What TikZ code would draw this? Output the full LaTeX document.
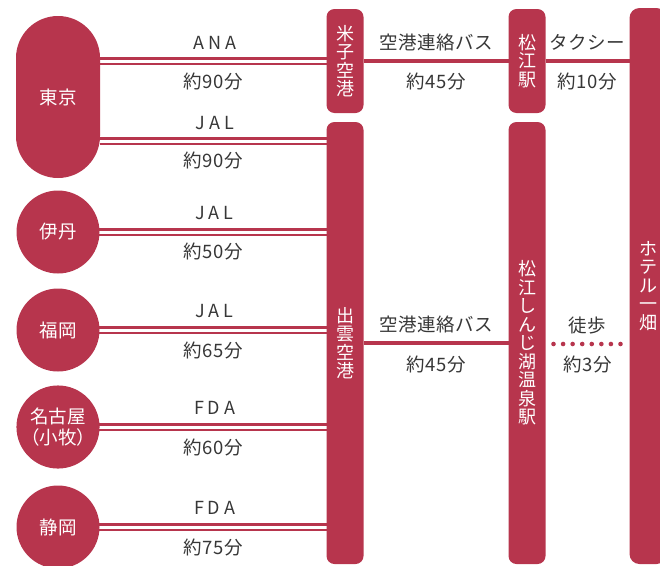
\documentclass[tikz,border=0pt]{standalone}
\usepackage{fontspec}
\setmainfont{Noto Sans CJK JP}
\newfontfamily\spacedfont[LetterSpace=22]{Noto Sans CJK JP}
\newfontfamily\labfont[LetterSpace=3]{Noto Sans CJK JP}
\usetikzlibrary{backgrounds}
\definecolor{crim}{RGB}{183,53,77}
\definecolor{inkc}{RGB}{55,55,55}
\begin{document}
\begin{tikzpicture}[x=1pt,y=-1pt,
  every node/.style={inner sep=0pt, outer sep=0pt},
  bar/.style={fill=crim, text=white, rounded corners=8pt, minimum width=37pt,
    font=\fontsize{18}{18.5}\selectfont, align=center},
  city/.style={circle, fill=crim, text=white, minimum size=83pt,
    font=\fontsize{18.5}{21}\selectfont, align=center},
  dbl/.style={draw=crim, line width=2.5pt, double=white, double distance=3pt},
  sgl/.style={draw=crim, line width=3.5pt},
  dotline/.style={draw=crim, line width=4.6pt, line cap=round, dash pattern=on 0pt off 9.57pt},
  lab/.style={text=inkc, font=\labfont\fontsize{18.5}{21}\selectfont},
  air/.style={text=inkc, font=\spacedfont\fontsize{18}{21}\selectfont}
]
\useasboundingbox (0,0) rectangle (660,565);
\clip (0,0) rectangle (660,565);

% origin nodes
\node[fill=crim, text=white, rounded corners=42pt, minimum width=84pt, minimum height=162pt,
  font=\fontsize{18.5}{21}\selectfont] (tokyo) at (58,97) {東京};
\node[city] (itami) at (58,232) {伊丹};
\node[city] (fukuoka) at (58,330) {福岡};
\node[city] (nagoya) at (58,427) {名古屋\\（小牧）};
\node[city] (shizuoka) at (58,527) {静岡};

% airports / stations
\node[bar, minimum height=104pt] (yonago) at (345,61) {米\\子\\空\\港};
\node[bar, minimum height=442pt] (izumo) at (345,343) {出\\雲\\空\\港};
\node[bar, minimum height=104pt] (matsue) at (527,61) {松\\江\\駅};
\node[bar, minimum height=442pt] (shinji) at (527,343) {松\\江\\し\\ん\\じ\\湖\\温\\泉\\駅};
\node[bar, rounded corners=10pt, minimum height=556pt] (hotel) at (648,286) {ホ\\テ\\ル\\一\\畑};

\coordinate (jalT) at (213,141);

\begin{scope}[on background layer]
\draw[dbl] (tokyo.east |- yonago.west) -- (yonago.west)
  node[air, midway, yshift=18pt, xshift=1.5pt] (l1a) {ANA}
  node[lab, midway, yshift=-21pt] (l1b) {約90分};
\draw[dbl] (tokyo.east |- jalT) -- (izumo.west |- jalT)
  node[air, midway, yshift=18pt, xshift=1.5pt] (l2a) {JAL}
  node[lab, midway, yshift=-20pt] (l2b) {約90分};
\draw[dbl, shorten <=-3pt] (itami.east) -- (itami.east -| izumo.west)
  node[air, midway, yshift=19pt, xshift=1.5pt] (l3a) {JAL}
  node[lab, midway, yshift=-20pt] (l3b) {約50分};
\draw[dbl, shorten <=-3pt] (fukuoka.east) -- (fukuoka.east -| izumo.west)
  node[air, midway, yshift=19pt, xshift=1.5pt] (l4a) {JAL}
  node[lab, midway, yshift=-20pt] (l4b) {約65分};
\draw[dbl, shorten <=-3pt] (nagoya.east) -- (nagoya.east -| izumo.west)
  node[air, midway, yshift=19pt, xshift=1.5pt] (l5a) {FDA}
  node[lab, midway, yshift=-20pt] (l5b) {約60分};
\draw[dbl, shorten <=-3pt] (shizuoka.east) -- (shizuoka.east -| izumo.west)
  node[air, midway, yshift=19pt, xshift=1.5pt] (l6a) {FDA}
  node[lab, midway, yshift=-20pt] (l6b) {約75分};

\draw[sgl] (yonago.east) -- (matsue.west)
  node[lab, midway, yshift=19pt] (b1a) {空港連絡バス}
  node[lab, midway, yshift=-21pt] (b1b) {約45分};
\draw[sgl] (matsue.east) -- (matsue.east -| hotel.west)
  node[lab, midway, yshift=19pt] (tx1) {タクシー}
  node[lab, midway, yshift=-21pt] (tx2) {約10分};
\draw[sgl] (izumo.east) -- (shinji.west)
  node[lab, midway, yshift=19pt] (b2a) {空港連絡バス}
  node[lab, midway, yshift=-21pt] (b2b) {約45分};
\draw[dotline, shorten <=8pt, shorten >=8pt] ([yshift=-1pt]shinji.east) -- ([yshift=-1pt]shinji.east -| hotel.west)
  node[lab, midway, yshift=18pt] (w1) {徒歩}
  node[lab, midway, yshift=-20pt] (w2) {約3分};
\end{scope}
\end{tikzpicture}
\end{document}
